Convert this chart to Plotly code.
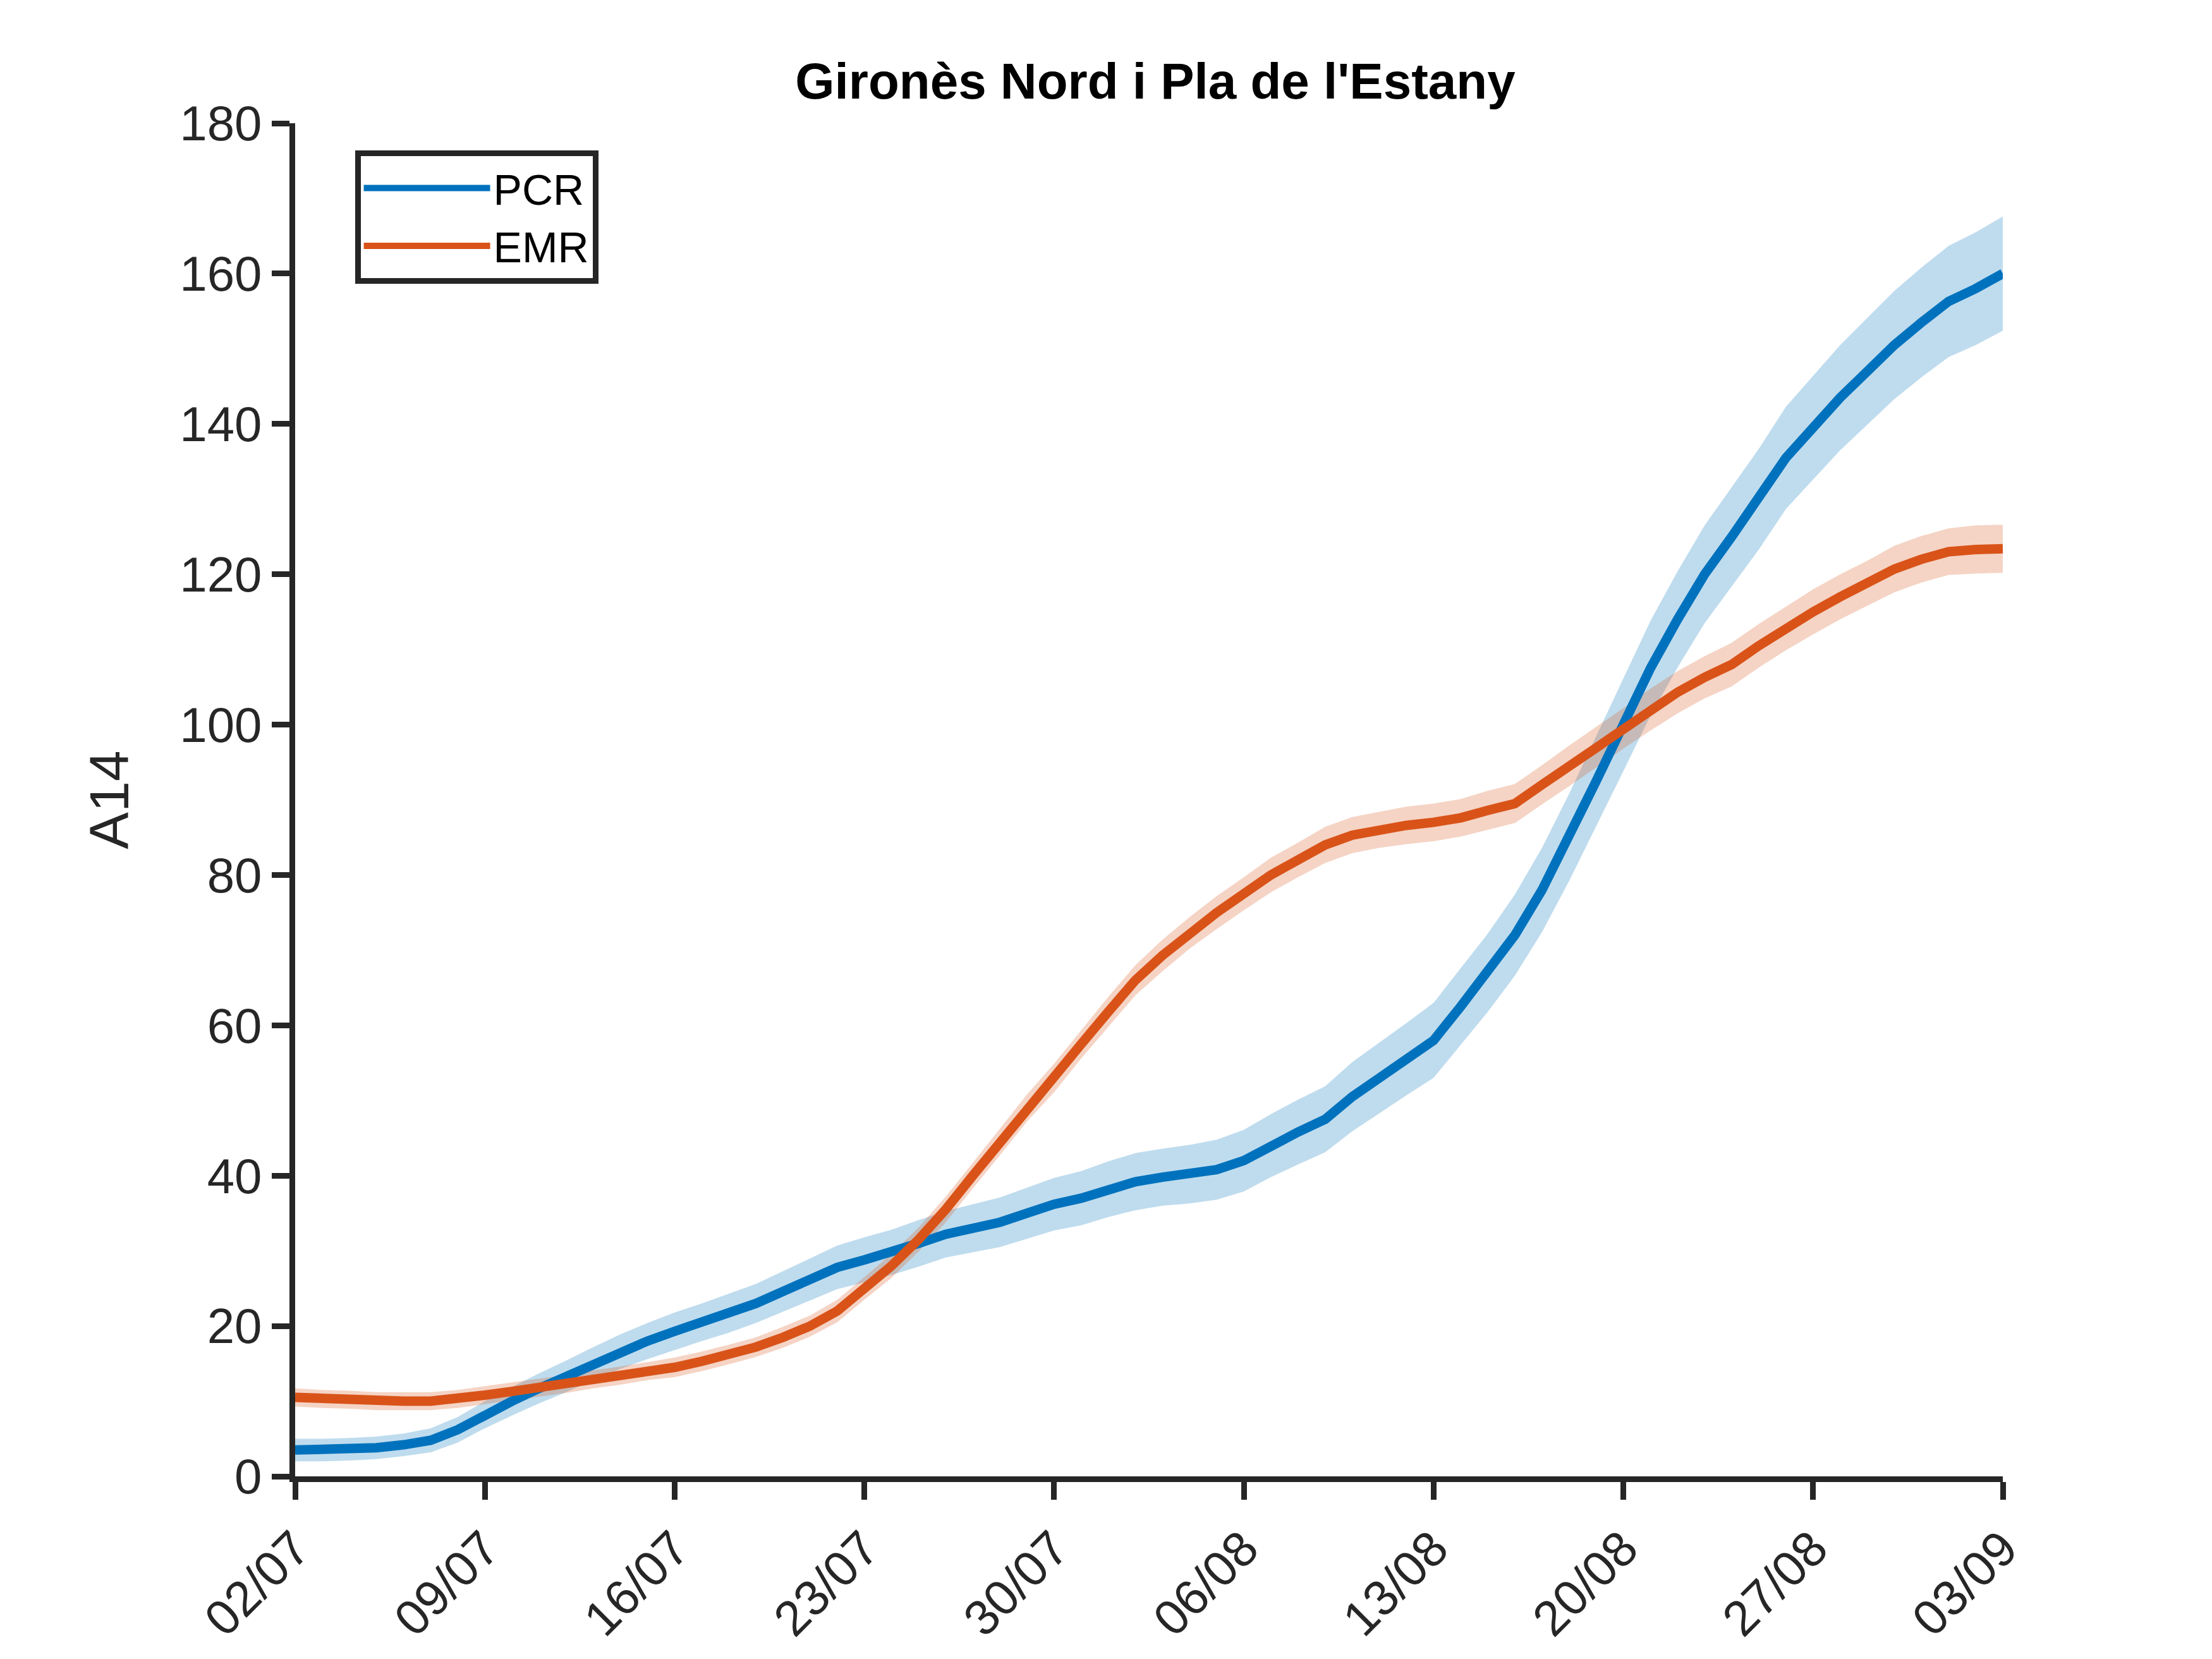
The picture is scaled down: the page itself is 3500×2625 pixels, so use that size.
import pandas as pd
import plotly.graph_objects as go

dates = pd.date_range("2020-07-02", "2020-09-03", freq="D")
tick_dates = ["2020-07-02", "2020-07-09", "2020-07-16", "2020-07-23", "2020-07-30",
              "2020-08-06", "2020-08-13", "2020-08-20", "2020-08-27", "2020-09-03"]
tick_text = ["02/07", "09/07", "16/07", "23/07", "30/07", "06/08", "13/08", "20/08", "27/08", "03/09"]

pcr = [3.5, 3.5, 3.6, 3.8, 4.2, 4.8, 6.2, 8.2, 10, 11.7, 13.3, 15, 16.6, 18,
       19.3, 20.5, 21.7, 23, 24.6, 26.2, 27.8, 28.8, 29.8, 31, 32.2, 33, 33.8, 35,
       36.2, 37, 38.2, 39.2, 39.8, 40.2, 40.8, 42, 44, 45.8, 47.5, 50.5, 53, 55.5,
       58, 62.5, 67, 72, 78, 85, 92.5, 100, 107.5, 114, 120, 125, 130, 135.5,
       139.5, 143.5, 147, 150.5, 153.5, 156.3, 158, 160]
pcr_err = [1.5, 1.5, 1.5, 1.5, 1.5, 1.6, 1.7, 1.8, 1.9, 2, 2.1, 2.2, 2.3, 2.4,
           2.5, 2.5, 2.6, 2.6, 2.7, 2.8, 2.9, 3, 3, 3.1, 3.1, 3.2, 3.3, 3.4,
           3.5, 3.6, 3.7, 3.8, 3.8, 3.9, 4, 4.1, 4.2, 4.3, 4.4, 4.6, 4.7, 4.8,
           5, 5.1, 5.2, 5.4, 5.6, 5.8, 6, 6.2, 6.3, 6.4, 6.5, 6.6, 6.7, 6.8,
           6.9, 7, 7.1, 7.2, 7.3, 7.4, 7.5, 7.6]
emr = [10.5, 10.3, 10.2, 10, 10, 10, 10.3, 10.8, 11.3, 11.8, 12.3, 12.9, 13.4, 14,
       14.5, 15.3, 16.2, 17.2, 18.5, 20, 22, 25, 28, 31.5, 35.5, 40, 44.5, 49,
       53, 57.5, 61.8, 66, 69.3, 72.3, 75, 77.5, 80, 82, 84, 85.3, 86, 86.6,
       87, 87.6, 88.6, 89.5, 92, 94.5, 97, 99.5, 102, 104.3, 106.3, 108, 110.5, 112.8,
       115, 117, 118.8, 120.7, 122, 123, 123.3, 123.4]
emr_err = [1.2, 1.2, 1.2, 1.2, 1.2, 1.2, 1.2, 1.2, 1.2, 1.2, 1.2, 1.2, 1.2, 1.2,
           1.3, 1.3, 1.3, 1.3, 1.4, 1.4, 1.5, 1.5, 1.6, 1.6, 1.7, 1.7, 1.8, 1.8,
           1.9, 1.9, 2, 2, 2.1, 2.1, 2.2, 2.2, 2.3, 2.3, 2.4, 2.4, 2.4, 2.5,
           2.5, 2.5, 2.6, 2.6, 2.6, 2.7, 2.7, 2.7, 2.8, 2.8, 2.8, 2.9, 2.9, 2.9,
           3, 3, 3, 3.1, 3.1, 3.1, 3.2, 3.2]

series = [("PCR", pcr, pcr_err, "#0072BD", "rgba(0,114,189,0.25)"),
          ("EMR", emr, emr_err, "#D95319", "rgba(217,83,25,0.25)")]

fig = go.Figure()
for name, vals, err, col, fill in series:
    upper = [v + e for v, e in zip(vals, err)]
    lower = [v - e for v, e in zip(vals, err)]
    fig.add_trace(go.Scatter(x=list(dates) + list(dates[::-1]), y=upper + lower[::-1],
                             fill="toself", fillcolor=fill, line=dict(width=0),
                             hoverinfo="skip", showlegend=False))
for name, vals, err, col, fill in series:
    fig.add_trace(go.Scatter(x=dates, y=vals, mode="lines", name=name,
                             line=dict(color=col, width=15)))

ax = dict(showline=True, linecolor="#262626", linewidth=9, ticks="outside",
          tickwidth=9, ticklen=28, tickcolor="#262626", showgrid=False, zeroline=False,
          tickfont=dict(size=78, color="#262626"))
fig.update_xaxes(**ax, range=[dates[0], dates[-1]],
                 tickvals=list(pd.to_datetime(tick_dates)),
                 ticktext=tick_text, tickangle=-45)
fig.update_yaxes(**ax, range=[0, 180], dtick=20,
                 title=dict(text="A14", font=dict(size=88, color="#262626"), standoff=55))
fig.update_layout(
    width=3500, height=2625, plot_bgcolor="white", paper_bgcolor="white",
    font=dict(family="Liberation Sans"),
    margin=dict(l=459, r=339, t=187, b=297),
    title=dict(text="<b>Gironès Nord i Pla de l'Estany</b>", x=0.52, xanchor="center",
               y=0.965, yanchor="top", font=dict(size=80, color="black")),
    legend=dict(x=0.035, y=0.98, xanchor="left", yanchor="top", bgcolor="white",
                bordercolor="#262626", borderwidth=9, font=dict(size=68, color="black"),
                itemwidth=200),
)
fig.write_html("out.html")
